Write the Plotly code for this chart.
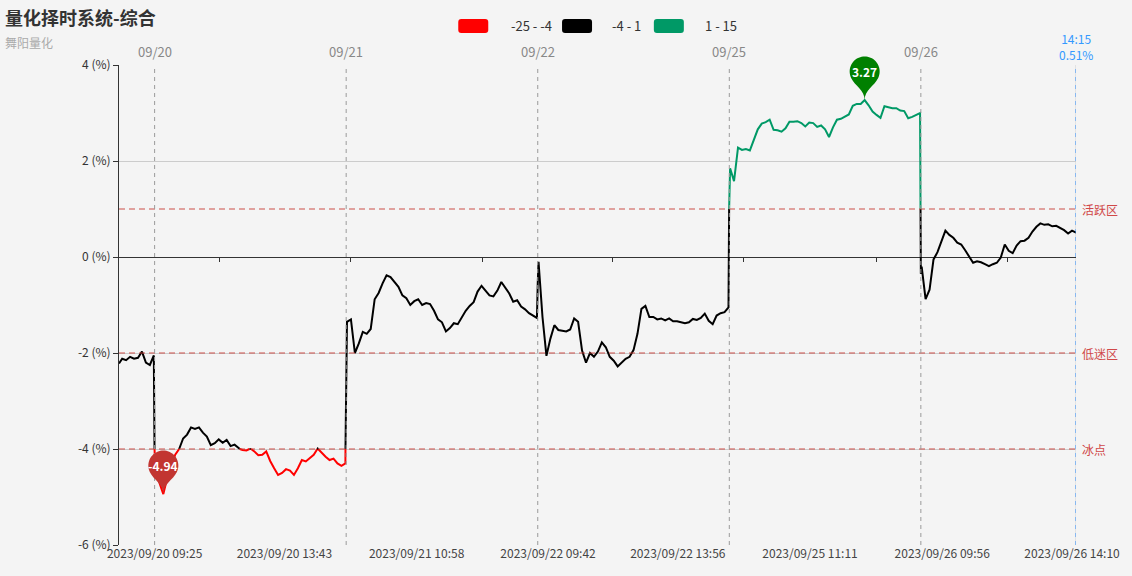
import math
import plotly.graph_objects as go

TITLE = "量化择时系统-综合"
SUBTITLE = "舞阳量化"

DAYS = ["2023/09/19", "2023/09/20", "2023/09/21", "2023/09/22", "2023/09/25", "2023/09/26"]
FIRST_DAY_TIMES = ["14:16", "14:20", "14:25", "14:30", "14:35", "14:40", "14:45", "14:50", "14:55", "15:00"]

V_0919 = [-2.22, -2.12, -2.15, -2.08, -2.12, -2.10, -1.97, -2.20, -2.25, -2.05]
V_0920 = [-4.25,
          -4.45, -4.70, -4.94, -4.60, -4.35, -4.12, -4.00, -3.78, -3.70, -3.55, -3.58, -3.55, -3.66,
          -3.74, -3.92, -3.88, -3.80, -3.87, -3.81, -3.94, -3.91, -3.99, -4.02, -4.03, -3.99,
          -4.05, -4.13, -4.12, -4.05, -4.25, -4.40, -4.54, -4.50, -4.42, -4.45, -4.54, -4.40,
          -4.23, -4.26, -4.19, -4.12, -3.99, -4.08, -4.16, -4.23, -4.20, -4.30, -4.35, -4.30]
V_0921 = [-1.75,
          -1.35, -1.30, -2.00, -1.80, -1.56, -1.60, -1.50, -0.88, -0.75, -0.55, -0.38, -0.42, -0.51,
          -0.62, -0.80, -0.86, -1.00, -0.92, -0.88, -1.00, -0.96, -0.98, -1.12, -1.30, -1.36,
          -1.55, -1.48, -1.38, -1.40, -1.25, -1.12, -1.02, -0.94, -0.72, -0.60, -0.70, -0.80,
          -0.82, -0.70, -0.52, -0.65, -0.76, -0.93, -0.90, -1.03, -1.09, -1.17, -1.22, -1.27]
V_0922 = [-0.55,
          -0.10, -1.25, -2.06, -1.70, -1.42, -1.52, -1.54, -1.55, -1.51, -1.28, -1.35, -1.95, -2.20,
          -2.00, -2.08, -1.97, -1.78, -1.88, -2.08, -2.16, -2.28, -2.20, -2.12, -2.08, -1.94,
          -1.60, -1.08, -1.02, -1.25, -1.25, -1.30, -1.28, -1.32, -1.28, -1.34, -1.34, -1.36,
          -1.38, -1.36, -1.29, -1.31, -1.27, -1.18, -1.33, -1.40, -1.22, -1.17, -1.15, -1.05]
V_0925 = [1.60,
          1.85, 1.58, 2.28, 2.23, 2.25, 2.22, 2.45, 2.66, 2.78, 2.81, 2.86, 2.65, 2.64,
          2.61, 2.68, 2.82, 2.82, 2.83, 2.79, 2.72, 2.80, 2.79, 2.71, 2.74, 2.66,
          2.50, 2.70, 2.86, 2.88, 2.93, 2.97, 3.15, 3.19, 3.19, 3.27, 3.16, 3.03,
          2.96, 2.90, 3.14, 3.12, 3.10, 3.10, 3.05, 3.04, 2.89, 2.92, 2.96, 3.00]
V_0926 = [-0.35,
          -0.20, -0.88, -0.68, -0.05, 0.10, 0.33, 0.55, 0.46, 0.40, 0.30, 0.26, 0.14, 0.01,
          -0.12, -0.09, -0.11, -0.15, -0.19, -0.15, -0.12, -0.01, 0.26, 0.13, 0.08, 0.24,
          0.33, 0.34, 0.40, 0.53, 0.63, 0.70, 0.67, 0.68, 0.64, 0.65, 0.60, 0.56,
          0.49, 0.55, 0.51]

PIECES = [(-25, -4, "#ff0000", "-25 - -4"), (-4, 1, "#000000", "-4 - 1"), (1, 15, "#009966", "1 - 15")]
LEVELS = [(1, "活跃区"), (-2, "低迷区"), (-4, "冰点")]
Y_TICKS = [-6, -4, -2, 0, 2, 4]
Y_RANGE = [-6, 4]
X_TICK_LABELS = ["2023/09/20 09:25", "2023/09/20 13:43", "2023/09/21 10:58", "2023/09/22 09:42",
                 "2023/09/22 13:56", "2023/09/25 11:11", "2023/09/26 09:56", "2023/09/26 14:10"]
DAY_LABELS = ["09/20", "09/21", "09/22", "09/25", "09/26"]

FONT = "Noto Sans CJK SC, Microsoft YaHei, sans-serif"

# ---------- plot geometry (pixels) ----------
W, H = 1132, 576
L, R, T, B = 119, 1078, 65, 545


def pxx(p):
    return (p - L) / (R - L)


def pxy(p):
    return (B - p) / (B - T)


def session_times():
    t = ["09:25"]
    for m in range(570, 691, 5):
        t.append(f"{m // 60:02d}:{m % 60:02d}")
    for m in range(785, 901, 5):
        t.append(f"{m // 60:02d}:{m % 60:02d}")
    return t


def raw_index(day, hhmm):
    h, m = map(int, hhmm.split(":"))
    t = h * 60 + m
    if t < 570:
        k = 0
    elif t <= 690:
        k = 1 + t - 570
    else:
        k = 122 + t - 781
    return DAYS.index(day) * 242 + k


START = raw_index(DAYS[0], FIRST_DAY_TIMES[0])


def idx(day, hhmm):
    return raw_index(day, hhmm) - START


# assemble series
series = [(DAYS[0], FIRST_DAY_TIMES, V_0919)]
for d, vals in zip(DAYS[1:], [V_0920, V_0921, V_0922, V_0925, V_0926]):
    series.append((d, session_times()[:len(vals)], vals))

xs, ys, labels = [], [], []
for d, times, vals in series:
    for t, v in zip(times, vals):
        xs.append(idx(d, t))
        ys.append(v)
        labels.append(f"{d} {t}")

x_first, x_last = xs[0], xs[-1]


def x_paper(v):
    return (v - x_first) / (x_last - x_first)


def y_paper(v):
    return (v - Y_RANGE[0]) / (Y_RANGE[1] - Y_RANGE[0])


def clip(xv, yv, lo, hi):
    cx, cy = [], []
    last = None
    for i in range(len(xv) - 1):
        x0, y0, x1, y1 = xv[i], yv[i], xv[i + 1], yv[i + 1]
        if y1 == y0:
            if lo <= y0 <= hi:
                t0, t1 = 0.0, 1.0
            else:
                continue
        else:
            ta = (lo - y0) / (y1 - y0)
            tb = (hi - y0) / (y1 - y0)
            t0 = max(0.0, min(ta, tb))
            t1 = min(1.0, max(ta, tb))
            if t0 >= t1:
                continue
        p0 = (x0 + t0 * (x1 - x0), y0 + t0 * (y1 - y0))
        p1 = (x0 + t1 * (x1 - x0), y0 + t1 * (y1 - y0))
        if last is not None and abs(last[0] - p0[0]) < 1e-9 and abs(last[1] - p0[1]) < 1e-9:
            cx.append(p1[0]); cy.append(p1[1])
        else:
            if cx:
                cx.append(None); cy.append(None)
            cx += [p0[0], p1[0]]; cy += [p0[1], p1[1]]
        last = p1
    return cx, cy


fig = go.Figure()
for lo, hi, col, _ in PIECES:
    cx, cy = clip(xs, ys, lo, hi)
    fig.add_trace(go.Scatter(x=cx, y=cy, mode="lines", line=dict(color=col, width=2),
                             hoverinfo="skip", showlegend=False, connectgaps=False))

# helper trace for the zero-line tick axis
fig.add_trace(go.Scatter(x=[x_first, x_last], y=[None, None], xaxis="x2", mode="lines",
                         hoverinfo="skip", showlegend=False))

shapes = []
annotations = []

# level lines
for v, name in LEVELS:
    shapes.append(dict(type="line", xref="x", yref="y", x0=x_first, x1=x_last, y0=v, y1=v,
                       line=dict(color="rgba(200,60,55,0.6)", width=1.5, dash="6px,4px"), layer="above"))
    annotations.append(dict(xref="paper", yref="y", x=1, y=v, xanchor="left", yanchor="middle",
                            xshift=4, text=name, showarrow=False,
                            font=dict(family=FONT, size=12, color="#d04848")))

# day dividers
day_starts = [idx(d, "09:25") for d in DAYS[1:]]
for ds, lab in zip(day_starts, DAY_LABELS):
    shapes.append(dict(type="line", xref="x", yref="paper", x0=ds, x1=ds, y0=0, y1=1,
                       line=dict(color="#9a9a9a", width=1, dash="4px,4px"), layer="above"))
    annotations.append(dict(xref="x", yref="paper", x=ds, y=pxy(52), xanchor="center", yanchor="middle",
                            text=lab, showarrow=False, font=dict(family=FONT, size=13, color="#888888")))

# right border + last value marker
shapes.append(dict(type="line", xref="x", yref="paper", x0=x_last, x1=x_last, y0=0, y1=1,
                   line=dict(color="#d0d0d0", width=1), layer="below"))
shapes.append(dict(type="line", xref="x", yref="paper", x0=x_last, x1=x_last, y0=0, y1=1,
                   line=dict(color="#2f8fff", width=1, dash="4px,4px"), layer="above"))
last_label = labels[-1].split(" ")[1]
annotations.append(dict(xref="x", yref="paper", x=x_last, y=pxy(46), xanchor="center", yanchor="middle",
                        text=f"{last_label}<br>{ys[-1]:.2f}%", showarrow=False,
                        font=dict(family=FONT, size=12, color="#3399ff")))


# pin markers (ECharts "pin" geometry, tip at the data point)
def pin_path():
    r = 15.0
    h = 50.0
    dy = r * r / (h - r)
    cy = h - r - dy
    ang = math.asin(dy / r)
    dx = math.cos(ang) * r
    tanx, tany = math.sin(ang), math.cos(ang)
    cp1, cp2 = r * 0.6, r * 0.7
    pts = []
    start = math.pi + ang
    end = -ang
    n = 40
    for i in range(n + 1):
        a = start + (end - start) * i / n
        pts.append((r * math.cos(a), cy + r * math.sin(a)))
    p = f"M {pts[0][0]:.2f},{pts[0][1]:.2f} " + " ".join(f"L {x:.2f},{y:.2f}" for x, y in pts[1:])
    p += (f" C {dx - tanx * cp1:.2f},{cy - dy - tany * cp1:.2f} 0,{cp2:.2f} 0,0"
          f" C 0,{cp2:.2f} {-dx + tanx * cp1:.2f},{cy - dy - tany * cp1:.2f} {-dx:.2f},{cy - dy:.2f} Z")
    return p, cy


PIN, PIN_CY = pin_path()
i_min = min(range(len(ys)), key=lambda i: ys[i])
i_max = max(range(len(ys)), key=lambda i: ys[i])
for i, col in [(i_min, "#c23531"), (i_max, "#008000")]:
    shapes.append(dict(type="path", xref="paper", yref="paper", xsizemode="pixel", ysizemode="pixel",
                       xanchor=x_paper(xs[i]), yanchor=y_paper(ys[i]), path=PIN, fillcolor=col,
                       line=dict(width=0), layer="above"))
    annotations.append(dict(xref="x", yref="y", x=xs[i], y=ys[i], yshift=PIN_CY, xanchor="center",
                            yanchor="middle", text=f"<b>{ys[i]:.2f}</b>", showarrow=False,
                            font=dict(family=FONT, size=12, color="white")))

# visualMap legend
box_cx = [474, 578, 670]
text_cx = [532, 628, 722]
rr = "M -15,4 Q -15,7 -12,7 L 12,7 Q 15,7 15,4 L 15,-4 Q 15,-7 12,-7 L -12,-7 Q -15,-7 -15,-4 Z"
for (lo, hi, col, lab), bx, tx in zip(PIECES, box_cx, text_cx):
    shapes.append(dict(type="path", xref="paper", yref="paper", xsizemode="pixel", ysizemode="pixel",
                       xanchor=pxx(bx), yanchor=pxy(26), path=rr, fillcolor=col, line=dict(width=0)))
    annotations.append(dict(xref="paper", yref="paper", x=pxx(tx), y=pxy(25), xanchor="center",
                            yanchor="middle", text=lab, showarrow=False,
                            font=dict(family=FONT, size=13, color="#333333")))

# title / subtitle
annotations.append(dict(xref="paper", yref="paper", x=pxx(3), y=pxy(17), xanchor="left", yanchor="middle",
                        text=f"<b>{TITLE}</b>", showarrow=False,
                        font=dict(family=FONT, size=18, color="#333333")))
annotations.append(dict(xref="paper", yref="paper", x=pxx(3), y=pxy(42), xanchor="left", yanchor="middle",
                        text=SUBTITLE, showarrow=False, font=dict(family=FONT, size=12, color="#aaaaaa")))

tick_idx = []
for lab in X_TICK_LABELS:
    d, t = lab.split(" ")
    tick_idx.append(idx(d, t))
mid_ticks = [(a + b) / 2 for a, b in zip(tick_idx[:-1], tick_idx[1:])]

fig.update_layout(
    width=W, height=H,
    margin=dict(l=L, r=W - R, t=T, b=H - B),
    paper_bgcolor="#f4f4f4", plot_bgcolor="#f4f4f4",
    font=dict(family=FONT, size=12, color="#333333"),
    showlegend=False,
    shapes=shapes, annotations=annotations,
    xaxis=dict(range=[x_first, x_last], tickvals=tick_idx, ticktext=X_TICK_LABELS,
               showgrid=False, zeroline=False, showline=False, ticks="",
               tickfont=dict(family=FONT, size=12, color="#444444")),
    xaxis2=dict(range=[x_first, x_last], overlaying="x", anchor="free", position=pxy(257), side="bottom",
                tickvals=mid_ticks, showticklabels=False, ticks="outside", ticklen=4, tickcolor="#333333",
                showgrid=False, zeroline=False, showline=False),
    yaxis=dict(range=Y_RANGE, tickvals=Y_TICKS, ticktext=[f"{v} (%)" for v in Y_TICKS],
               showgrid=True, gridcolor="#cccccc", zeroline=True, zerolinecolor="#333333",
               zerolinewidth=1, showline=True, linecolor="#333333", ticks="outside", ticklen=5,
               tickcolor="#333333", tickfont=dict(family=FONT, size=12, color="#333333")),
)

fig.write_html("out.html", config={"displayModeBar": False},
               post_script="document.body.style.margin='0';document.body.style.background='#f4f4f4';")
